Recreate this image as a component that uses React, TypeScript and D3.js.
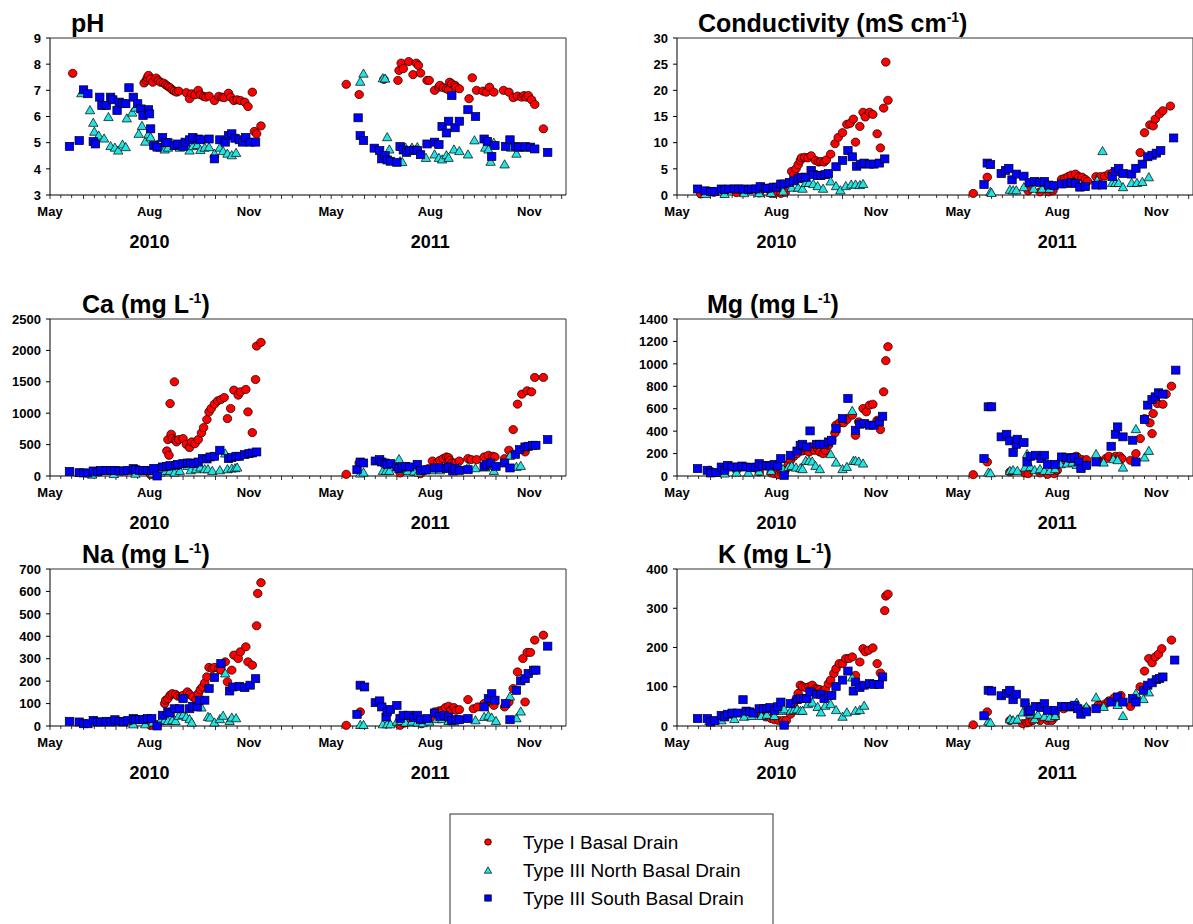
import React from 'react';
import * as d3 from 'd3';

type Pt = [number, number]; // [day of year, value]

// ---- pH ----
const PH_T1_2010: Pt[] = [[142,7.65],[208,7.28],[210,7.38],[211,7.48],[212,7.57],[214,7.44],[216,7.31],[219,7.47],[221,7.38],[223,7.31],[226,7.28],[228,7.21],[230,7.15],[232,7.1],[234,7.02],[236,6.97],[238,6.93],[240,6.97],[247,6.91],[250,6.68],[252,6.87],[255,6.83],[258,7.0],[260,6.83],[263,6.77],[265,6.74],[268,6.78],[273,6.61],[277,6.77],[280,6.74],[282,6.72],[286,6.89],[288,6.74],[291,6.61],[294,6.64],[297,6.61],[301,6.55],[304,6.38],[308,6.93],[310,5.43],[312,5.34],[316,5.64]];
const PH_T3N_2010: Pt[] = [[150,6.91],[158,6.26],[161,5.78],[162,5.44],[166,5.29],[171,5.18],[175,6.0],[177,4.89],[181,4.83],[184,4.72],[188,4.95],[191,4.85],[192,5.95],[197,6.17],[200,6.36],[203,5.36],[206,5.66],[209,5.06],[212,5.34],[214,5.23],[220,4.95],[223,4.83],[227,4.76],[230,4.83],[236,4.89],[241,4.83],[244,4.95],[250,4.72],[253,4.89],[257,4.93],[260,4.74],[264,4.83],[268,4.85],[273,4.6],[278,4.83],[281,4.7],[285,4.6],[289,4.54],[293,4.63]];
const PH_T3S_2010: Pt[] = [[139,4.86],[148,5.08],[152,7.02],[156,6.87],[161,5.04],[163,4.95],[167,6.74],[169,6.42],[173,6.42],[177,6.74],[179,6.64],[183,6.23],[185,6.55],[188,6.49],[191,6.49],[194,7.1],[198,6.74],[202,6.49],[205,6.29],[207,6.04],[212,6.26],[213,6.1],[214,5.53],[217,4.89],[220,4.83],[225,5.2],[228,5.0],[230,5.0],[236,4.89],[239,4.95],[244,4.86],[246,5.02],[250,5.11],[253,5.2],[258,5.14],[260,5.11],[268,5.14],[273,4.38],[278,5.11],[283,5.02],[286,5.27],[289,5.34],[292,5.17],[296,5.11],[299,5.02],[302,5.2],[306,5.02],[311,5.02]];
const PH_T1_2011: Pt[] = [[135,7.23],[147,6.84],[170,7.42],[183,7.38],[184,7.76],[186,8.04],[188,7.83],[193,8.1],[197,7.6],[200,8.04],[202,7.95],[204,7.66],[210,7.38],[212,7.38],[217,7.0],[221,7.12],[222,7.19],[225,7.1],[228,7.06],[230,7.02],[231,7.31],[233,7.25],[236,7.19],[237,7.12],[240,7.06],[249,6.68],[252,7.48],[256,7.0],[262,6.97],[265,6.93],[268,7.12],[272,6.93],[281,7.0],[286,6.93],[290,6.72],[294,6.78],[298,6.74],[300,6.8],[302,6.74],[304,6.8],[307,6.64],[310,6.46],[318,5.53]];
const PH_T3N_2011: Pt[] = [[148,7.35],[151,7.66],[169,7.48],[171,7.47],[173,5.23],[175,4.76],[185,4.31],[187,4.28],[190,4.83],[196,4.83],[201,4.85],[209,4.44],[217,4.57],[221,4.44],[224,4.38],[228,4.54],[230,4.44],[235,4.76],[240,4.7],[248,4.57],[254,5.11],[264,4.83],[267,4.76],[269,4.29],[272,5.02],[282,4.19],[288,4.83],[293,4.6],[297,4.83],[302,4.83]];
const PH_T3S_2011: Pt[] = [[146,5.95],[148,5.27],[151,5.08],[161,4.79],[166,4.7],[168,4.38],[171,4.51],[173,4.34],[176,4.29],[182,4.25],[185,4.85],[188,4.72],[191,4.63],[194,4.7],[198,4.72],[201,4.7],[204,4.54],[210,4.95],[217,5.02],[221,4.93],[224,5.62],[228,5.37],[230,5.82],[233,6.8],[236,5.57],[240,5.82],[248,6.26],[255,6.0],[263,5.14],[266,5.05],[270,4.47],[273,4.89],[283,4.86],[287,5.11],[292,4.85],[295,4.83],[301,4.85],[306,4.83],[310,4.76],[322,4.63]];

// ---- Conductivity ----
const COND_T1_2010: Pt[] = [[143,0.2],[155,0.5],[176,0.45],[197,0.4],[208,0.3],[211,0.3],[217,0.3],[221,0.5],[227,4.5],[229,3.9],[231,5.0],[233,5.8],[235,6.6],[236,7.1],[239,7.2],[242,7.1],[245,7.5],[249,6.6],[252,6.3],[254,6.4],[257,6.3],[259,6.7],[263,7.8],[267,9.8],[270,11.0],[274,11.9],[278,13.5],[281,13.7],[284,14.5],[286,10.1],[290,13.1],[293,15.8],[295,14.9],[299,15.8],[302,15.4],[306,11.7],[309,9.0],[312,16.6],[314,25.4],[316,18.1]];
const COND_T3N_2010: Pt[] = [[147,0.3],[165,0.3],[183,0.45],[197,0.45],[208,0.5],[219,0.8],[227,1.5],[233,1.5],[237,1.3],[240,2.4],[243,2.4],[247,2.2],[251,1.8],[256,1.3],[263,2.7],[268,1.8],[272,1.0],[277,1.8],[282,2.1],[286,2.1],[290,2.0],[293,2.2]];
const COND_T3S_2010: Pt[] = [[140,1.15],[147,0.8],[152,0.7],[156,0.7],[162,1.15],[165,1.0],[169,1.15],[174,1.15],[178,1.15],[182,1.15],[187,1.0],[190,1.15],[194,1.15],[198,1.6],[203,1.3],[205,1.3],[210,1.5],[213,1.5],[217,2.1],[220,2.1],[225,2.4],[229,2.7],[233,3.1],[236,3.4],[240,3.4],[245,4.7],[247,3.9],[251,3.7],[254,3.7],[258,3.9],[261,4.1],[268,5.4],[274,6.6],[279,8.5],[283,7.3],[287,5.5],[291,5.9],[294,6.1],[299,5.9],[303,5.9],[308,6.1],[313,6.9]];
const COND_T1_2011: Pt[] = [[135,0.3],[148,3.4],[186,0.8],[197,0.6],[205,0.6],[209,0.8],[217,3.0],[220,3.2],[223,3.5],[226,3.8],[230,4.0],[233,3.5],[236,3.4],[239,3.0],[241,2.6],[249,3.5],[253,3.5],[257,3.6],[261,4.0],[265,4.3],[290,8.1],[294,11.9],[299,13.4],[302,13.2],[304,14.5],[308,15.5],[311,16.1],[318,17.0]];
const COND_T3N_2011: Pt[] = [[151,0.7],[152,0.5],[169,1.1],[172,1.0],[175,1.0],[182,1.6],[191,1.3],[199,1.3],[206,1.3],[250,2.9],[255,8.5],[264,2.4],[267,2.4],[270,2.4],[274,1.6],[282,2.4],[287,2.4],[292,2.6],[298,3.5]];
const COND_T3S_2011: Pt[] = [[145,2.0],[148,6.1],[151,5.8],[161,4.1],[165,4.7],[168,5.1],[171,2.9],[175,4.0],[182,3.6],[187,2.4],[192,2.6],[197,2.4],[201,2.6],[205,1.9],[210,1.8],[217,2.1],[222,2.2],[226,2.4],[230,2.2],[234,1.5],[239,1.6],[249,1.9],[255,1.9],[264,3.5],[267,4.5],[270,5.1],[274,4.1],[282,4.0],[286,5.1],[292,5.9],[297,7.3],[301,7.6],[305,8.0],[309,8.5],[321,10.9]];

// ---- Ca ----
const CA_T1_2010: Pt[] = [[214,21],[220,37],[229,399],[230,580],[231,330],[232,1154],[233,665],[234,596],[236,1500],[237,569],[238,543],[240,580],[244,596],[247,505],[250,452],[252,543],[255,516],[258,580],[261,686],[263,771],[266,899],[268,1021],[270,1075],[273,1144],[276,1197],[279,1218],[282,1250],[285,915],[288,1075],[291,1367],[295,1287],[297,1340],[302,1378],[304,1021],[308,692],[311,1537],[312,2069],[316,2128]];
const CA_T3N_2010: Pt[] = [[160,30],[180,40],[200,45],[216,48],[223,64],[228,90],[232,90],[236,64],[241,90],[248,170],[251,100],[256,117],[260,144],[264,117],[267,117],[271,90],[278,100],[283,367],[285,117],[289,128],[292,133],[294,144]];
const CA_T3S_2010: Pt[] = [[139,74],[148,53],[152,48],[156,48],[161,80],[165,64],[168,90],[173,90],[177,90],[181,90],[185,80],[189,80],[193,90],[198,117],[200,100],[204,90],[207,90],[211,90],[215,90],[217,122],[220,0],[225,144],[229,154],[232,165],[237,170],[239,186],[244,197],[248,207],[251,207],[254,197],[258,223],[262,277],[266,271],[269,303],[273,314],[278,410],[286,277],[289,293],[293,314],[296,314],[301,340],[305,356],[308,367],[312,383]];
const CA_T1_2011: Pt[] = [[135,27],[147,207],[185,48],[196,80],[204,37],[208,90],[211,117],[215,239],[220,223],[222,250],[225,277],[228,303],[230,293],[231,250],[233,207],[236,207],[240,239],[248,277],[251,261],[256,261],[263,303],[267,330],[271,314],[273,303],[282,277],[286,410],[290,739],[294,1144],[298,1303],[301,383],[303,1357],[307,1340],[310,1569],[318,1569]];
const CA_T3N_2011: Pt[] = [[148,48],[151,64],[169,90],[172,90],[175,90],[184,277],[187,100],[192,90],[198,80],[202,64],[208,100],[214,100],[222,100],[231,144],[240,144],[248,154],[255,133],[264,144],[267,170],[272,90],[287,330],[293,154],[297,170]];
const CA_T3S_2011: Pt[] = [[145,100],[148,223],[151,207],[162,239],[166,261],[168,223],[171,207],[173,186],[176,197],[182,144],[184,117],[187,144],[190,154],[194,144],[201,186],[204,90],[209,100],[217,128],[222,128],[228,117],[230,144],[234,80],[236,117],[240,90],[248,100],[263,154],[265,186],[269,207],[274,154],[282,207],[287,128],[292,346],[296,420],[301,463],[304,473],[308,489],[311,489],[322,580]];

// ---- Mg ----
const MG_T1_2010: Pt[] = [[151,51],[176,51],[197,36],[208,27],[211,21],[215,12],[218,27],[221,51],[224,104],[226,140],[229,176],[232,200],[235,229],[237,223],[240,235],[243,214],[245,259],[248,229],[251,244],[253,214],[256,200],[258,229],[261,274],[264,319],[267,384],[268,453],[271,474],[275,474],[278,503],[283,542],[286,363],[289,483],[293,602],[296,572],[299,632],[302,640],[306,497],[309,414],[312,751],[314,1028],[316,1153]];
const MG_T3N_2010: Pt[] = [[155,36],[165,27],[176,36],[187,36],[197,45],[208,51],[219,66],[224,86],[227,95],[231,80],[235,74],[237,66],[240,140],[243,140],[246,134],[249,95],[253,66],[263,200],[268,125],[274,66],[278,86],[283,585],[284,140],[286,140],[289,134],[293,116]];
const MG_T3S_2010: Pt[] = [[140,66],[149,51],[152,27],[157,30],[162,80],[165,51],[168,95],[172,80],[177,80],[181,89],[185,80],[189,74],[194,80],[197,110],[200,89],[204,95],[207,89],[211,104],[214,89],[217,155],[220,6],[226,185],[232,223],[235,274],[237,283],[241,259],[244,402],[250,283],[253,283],[257,283],[261,304],[264,319],[268,423],[274,512],[279,691],[286,408],[290,462],[294,468],[299,453],[303,453],[308,483],[311,533]];
const MG_T1_2011: Pt[] = [[135,12],[148,125],[169,36],[183,27],[186,21],[197,27],[204,15],[210,21],[213,51],[217,140],[222,155],[229,170],[231,176],[236,146],[240,146],[251,140],[258,155],[261,176],[267,176],[271,176],[273,155],[281,140],[286,200],[290,334],[294,512],[299,474],[301,378],[302,557],[306,646],[311,640],[314,730],[319,801]];
const MG_T3N_2011: Pt[] = [[149,36],[151,30],[169,51],[172,57],[176,51],[183,80],[185,200],[188,86],[192,57],[197,66],[201,51],[206,51],[211,66],[216,110],[222,116],[227,125],[231,104],[240,110],[249,200],[256,125],[265,155],[269,146],[274,80],[286,423],[294,170],[298,229]];
const MG_T3S_2011: Pt[] = [[145,155],[149,617],[152,617],[161,349],[166,372],[169,313],[172,209],[175,283],[176,328],[182,298],[185,125],[188,176],[193,185],[198,155],[201,185],[204,104],[211,104],[217,170],[222,164],[226,155],[229,164],[233,125],[235,66],[240,95],[249,125],[263,265],[267,372],[269,438],[274,349],[283,319],[286,125],[294,503],[297,632],[301,682],[304,706],[307,742],[311,730],[323,944]];

// ---- Na ----
const NA_T1_2010: Pt[] = [[214,3],[220,6],[227,100],[228,115],[230,122],[232,137],[234,144],[237,141],[239,133],[242,130],[244,137],[248,152],[250,141],[253,130],[256,118],[258,144],[260,162],[262,174],[264,192],[266,219],[268,261],[271,256],[273,261],[277,256],[279,249],[283,286],[285,197],[289,249],[291,316],[295,301],[297,331],[302,353],[304,286],[308,271],[312,447],[313,591],[316,639]];
const NA_T3N_2010: Pt[] = [[198,10],[209,10],[216,18],[223,25],[227,28],[230,25],[234,28],[237,25],[240,48],[244,52],[247,43],[250,33],[252,18],[261,85],[267,43],[269,40],[273,18],[278,33],[281,48],[283,237],[287,25],[289,40],[293,37]];
const NA_T3S_2010: Pt[] = [[139,21],[148,18],[152,10],[156,10],[161,25],[165,18],[168,18],[173,21],[177,18],[181,28],[185,21],[189,18],[193,25],[198,33],[200,28],[204,28],[207,28],[211,33],[215,33],[220,0],[225,48],[230,63],[232,58],[236,77],[241,77],[244,122],[250,77],[253,88],[257,85],[259,115],[264,115],[268,167],[273,216],[279,278],[287,156],[290,174],[296,177],[301,171],[306,182],[311,211]];
const NA_T1_2011: Pt[] = [[135,3],[148,63],[185,3],[189,13],[192,21],[198,18],[205,10],[209,25],[214,33],[217,63],[221,67],[224,70],[227,82],[230,88],[232,70],[235,82],[237,70],[240,73],[248,118],[253,77],[257,85],[263,100],[269,107],[272,92],[282,85],[286,107],[290,167],[294,241],[299,301],[301,107],[303,328],[306,328],[310,383],[318,405]];
const NA_T3N_2011: Pt[] = [[148,7],[151,7],[169,10],[173,10],[176,10],[182,22],[186,25],[190,18],[196,22],[201,18],[206,15],[212,22],[219,33],[224,33],[230,25],[235,22],[255,28],[263,43],[267,48],[270,40],[274,25],[287,134],[293,37],[297,67]];
const NA_T3S_2011: Pt[] = [[145,52],[148,182],[152,174],[162,104],[166,112],[168,85],[172,40],[173,63],[176,74],[182,92],[185,33],[188,48],[193,48],[198,37],[201,48],[204,28],[210,33],[217,58],[222,43],[226,48],[230,40],[233,25],[237,28],[240,28],[248,33],[263,85],[267,122],[270,144],[273,115],[283,100],[287,28],[293,159],[297,201],[301,211],[304,234],[309,249],[311,249],[322,356]];

// ---- K ----
const K_T1_2010: Pt[] = [[190,33],[197,30],[203,23],[208,19],[211,16],[215,14],[219,14],[222,14],[226,30],[229,49],[231,67],[233,83],[235,104],[237,100],[240,98],[243,100],[246,104],[249,95],[251,94],[253,93],[256,89],[258,93],[261,108],[263,117],[266,134],[268,146],[271,159],[274,159],[277,172],[280,172],[283,176],[286,129],[290,163],[293,197],[295,189],[298,193],[302,199],[306,159],[309,135],[313,294],[314,331],[316,336]];
const K_T3N_2010: Pt[] = [[151,14],[162,16],[174,19],[183,25],[190,27],[199,27],[204,30],[211,27],[217,40],[220,44],[226,40],[229,42],[232,44],[235,40],[237,40],[242,57],[246,61],[251,50],[254,36],[258,53],[263,57],[268,42],[274,25],[278,36],[283,125],[286,40],[290,42],[294,53]];
const K_T3S_2010: Pt[] = [[140,19],[149,19],[152,10],[156,14],[162,27],[165,23],[168,30],[172,33],[177,33],[182,67],[185,38],[188,36],[192,33],[197,44],[201,44],[204,44],[207,47],[211,40],[214,49],[217,61],[220,2],[226,57],[232,67],[235,70],[238,70],[241,70],[244,87],[250,81],[254,81],[257,70],[261,78],[264,78],[268,101],[274,117],[279,140],[284,89],[286,112],[290,98],[294,104],[299,108],[303,106],[308,106],[311,125]];
const K_T1_2011: Pt[] = [[135,3],[148,36],[169,14],[181,6],[185,8],[187,10],[190,14],[197,14],[204,14],[208,14],[211,23],[219,44],[229,49],[240,44],[251,53],[254,53],[258,57],[261,64],[266,72],[272,78],[281,50],[286,72],[290,100],[294,140],[298,172],[301,161],[304,176],[307,183],[310,197],[319,219]];
const K_T3N_2011: Pt[] = [[149,13],[151,10],[169,19],[172,16],[176,18],[181,36],[185,57],[188,31],[192,19],[195,30],[201,25],[206,23],[211,27],[217,50],[224,49],[231,61],[240,50],[249,74],[256,50],[269,55],[274,27],[286,84],[293,70],[298,87]];
const K_T3S_2011: Pt[] = [[145,26],[149,91],[152,89],[161,77],[166,83],[169,91],[172,67],[175,81],[183,59],[186,36],[188,40],[193,50],[198,47],[201,57],[204,40],[211,40],[217,50],[221,50],[226,49],[229,53],[232,44],[235,30],[240,36],[249,44],[263,61],[269,74],[274,61],[283,70],[286,61],[293,91],[297,104],[301,110],[305,118],[308,121],[311,125],[322,168]];

const YEARS = [2010, 2011];
const SERIES = ['Type I Basal Drain', 'Type III North Basal Drain', 'Type III South Basal Drain'];
const COLORS = ['#ff0000', '#22e2e2', '#0000ff'];
const SHAPES = ['circle', 'triangle', 'square'];
const MONTH_LABELS = ['May', 'Aug', 'Nov'];

const panels = [
  { name: 'pH', unit: false, yMin: 3, yMax: 9, step: 1, col: 0, row: 0, tx: 21,
    series: [[PH_T1_2010, PH_T1_2011], [PH_T3N_2010, PH_T3N_2011], [PH_T3S_2010, PH_T3S_2011]] },
  { name: 'Conductivity (mS cm', unit: true, yMin: 0, yMax: 30, step: 5, col: 1, row: 0, tx: 21,
    series: [[COND_T1_2010, COND_T1_2011], [COND_T3N_2010, COND_T3N_2011], [COND_T3S_2010, COND_T3S_2011]] },
  { name: 'Ca (mg L', unit: true, yMin: 0, yMax: 2500, step: 500, col: 0, row: 1, tx: 32,
    series: [[CA_T1_2010, CA_T1_2011], [CA_T3N_2010, CA_T3N_2011], [CA_T3S_2010, CA_T3S_2011]] },
  { name: 'Mg (mg L', unit: true, yMin: 0, yMax: 1400, step: 200, col: 1, row: 1, tx: 30,
    series: [[MG_T1_2010, MG_T1_2011], [MG_T3N_2010, MG_T3N_2011], [MG_T3S_2010, MG_T3S_2011]] },
  { name: 'Na (mg L', unit: true, yMin: 0, yMax: 700, step: 100, col: 0, row: 2, tx: 32,
    series: [[NA_T1_2010, NA_T1_2011], [NA_T3N_2010, NA_T3N_2011], [NA_T3S_2010, NA_T3S_2011]] },
  { name: 'K (mg L', unit: true, yMin: 0, yMax: 400, step: 100, col: 1, row: 2, tx: 41,
    series: [[K_T1_2010, K_T1_2011], [K_T3N_2010, K_T3N_2011], [K_T3S_2010, K_T3S_2011]] },
];

const W = 1193;
const H = 924;
const FONT = 'Liberation Sans, Arial, Helvetica, sans-serif';
const COL_X = [50, 677];
const ROW_Y = [38, 319, 569];
const PLOT_W = 516;
const BREAK = 251;
const PLOT_H = 157;

function Marker({ shape, x, y, color, s = 1 }: any) {
  if (shape === 'circle')
    return <ellipse cx={x} cy={y} rx={4.3 * s} ry={4.1 * s} fill={color} stroke="#000" strokeWidth={0.7} />;
  if (shape === 'square')
    return <rect x={x - 4.2 * s} y={y - 4 * s} width={8.4 * s} height={8 * s} fill={color} stroke="#000" strokeWidth={0.7} />;
  const hw = 4.7 * s, hh = 4.1 * s;
  return <path d={`M${x},${y - hh}L${x + hw},${y + hh}L${x - hw},${y + hh}Z`} fill={color} stroke="#000" strokeWidth={0.7} />;
}

function Panel({ p }: any) {
  const x0 = COL_X[p.col];
  const top = ROW_Y[p.row];
  const bottom = top + PLOT_H;
  const xb = x0 + BREAK;
  const x1 = x0 + PLOT_W;

  const xs = [
    d3.scaleTime().domain([new Date(2010, 4, 1), new Date(2010, 11, 19)]).range([x0, xb]),
    d3.scaleTime().domain([new Date(2011, 3, 3), new Date(2011, 11, 5)]).range([xb, x1]),
  ];
  const y = d3.scaleLinear().domain([p.yMin, p.yMax]).range([bottom, top]);
  const yTicks = d3.range(p.yMin, p.yMax + p.step / 2, p.step);

  return (
    <g>
      {/* frame */}
      <line x1={x0} x2={x1} y1={top} y2={top} stroke="#333" strokeWidth={1} />
      <line x1={x1} x2={x1} y1={top} y2={bottom} stroke="#333" strokeWidth={1} />
      <line x1={x0} x2={x0} y1={top} y2={bottom} stroke="#000" strokeWidth={1} />
      <line x1={x0} x2={x1} y1={bottom} y2={bottom} stroke="#000" strokeWidth={1.2} />

      {/* y axis */}
      {yTicks.map((t: number) => (
        <g key={t}>
          <line x1={x0 - 4} x2={x0} y1={y(t)} y2={y(t)} stroke="#000" />
          <text x={x0 - 9} y={y(t)} dy="0.36em" textAnchor="end" fontSize={13} fontWeight="bold" fontFamily={FONT}>{t}</text>
        </g>
      ))}

      {/* x axis segments */}
      {xs.map((sc, yi) => {
        const [d0, d1] = sc.domain();
        const days = d3.timeDay.range(d0, d1).filter((d) => [1, 11, 21].includes(d.getDate()));
        const months = [4, 7, 10].map((m) => new Date(YEARS[yi], m, 1));
        const mid = (sc(months[0]) + sc(months[2])) / 2;
        return (
          <g key={yi}>
            {days.map((d, i) => (
              <line key={i} x1={sc(d)} x2={sc(d)} y1={bottom} y2={bottom + (d.getDate() === 1 ? 4 : 3)} stroke="#000" strokeWidth={0.8} />
            ))}
            {months.map((m, i) => (
              <text key={i} x={sc(m)} y={bottom + 21} textAnchor="middle" fontSize={13} fontWeight="bold" fontFamily={FONT}>{MONTH_LABELS[i]}</text>
            ))}
            <text x={mid} y={bottom + 53} textAnchor="middle" fontSize={18} fontWeight="bold" fontFamily={FONT}>{YEARS[yi]}</text>
          </g>
        );
      })}

      {/* title */}
      <text x={x0 + p.tx} y={top - 6} fontSize={25} fontWeight="bold" fontFamily={FONT}>
        {p.name}
        {p.unit && <tspan fontSize={14} dy={-10}>-1</tspan>}
        {p.unit && <tspan fontSize={25} dy={10}>)</tspan>}
      </text>

      {/* points */}
      {p.series.map((byYear: Pt[][], si: number) => (
        <g key={si}>
          {byYear.map((pts, yi) =>
            pts.map(([doy, v], k) => (
              <Marker key={`${yi}-${k}`} shape={SHAPES[si]} color={COLORS[si]}
                x={xs[yi](new Date(YEARS[yi], 0, doy))} y={y(v)} />
            ))
          )}
        </g>
      ))}
    </g>
  );
}

export default function App() {
  const lx = 450, ly = 814;
  return (
    <svg width={W} height={H} style={{ position: 'absolute', left: 0, top: 0, background: '#fff' }}>
      <rect x={0} y={0} width={W} height={H} fill="#fff" />
      {panels.map((p, i) => <Panel key={i} p={p} />)}
      <g>
        <rect x={lx} y={ly} width={323} height={200} fill="none" stroke="#333" strokeWidth={1} />
        {SERIES.map((s, i) => (
          <g key={s}>
            <Marker shape={SHAPES[i]} color={COLORS[i]} x={lx + 38} y={ly + 28 + i * 28} s={0.78} />
            <text x={lx + 73} y={ly + 35 + i * 28} fontSize={19} fontFamily={FONT}>{s}</text>
          </g>
        ))}
      </g>
    </svg>
  );
}
